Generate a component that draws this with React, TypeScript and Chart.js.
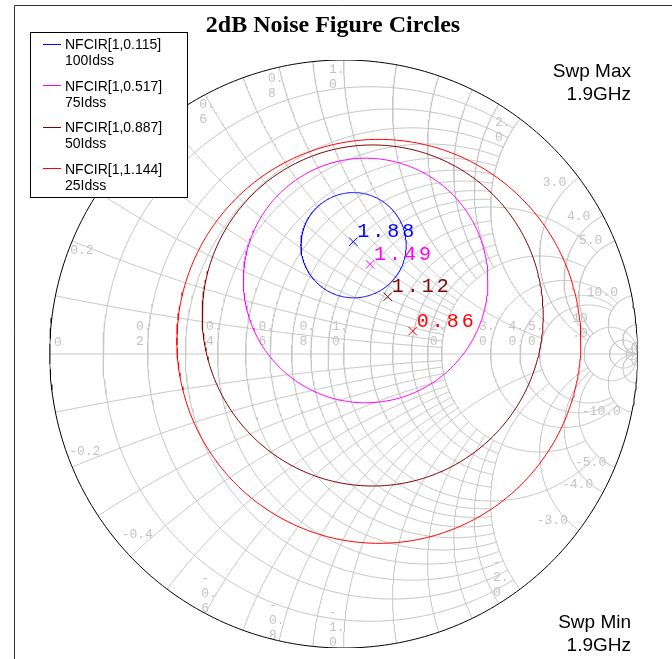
import React, { useEffect, useRef } from 'react';
import { Chart, registerables } from 'chart.js';

Chart.register(...registerables);

// ---------- data ----------
const circleNames = ['NFCIR[1,0.115]', 'NFCIR[1,0.517]', 'NFCIR[1,0.887]', 'NFCIR[1,1.144]'];
const biasNames = ['100Idss', '75Idss', '50Idss', '25Idss'];
const centerRe = [0.034, 0.075, 0.099, 0.120];
const centerIm = [0.370, 0.250, 0.131, 0.043];
const circleRadius = [0.179, 0.416, 0.580, 0.687];
const optRe = [0.033, 0.090, 0.150, 0.235];
const optIm = [0.382, 0.305, 0.195, 0.078];
const nfMinText = ['1.88', '1.49', '1.12', '0.86'];

// Smith grid values
const rMinor = [0.1, 0.2, 0.3, 0.4, 0.5, 0.6, 0.7, 0.8, 0.9];
const rOne = [1.0];
const rMid = [1.2, 1.4, 1.6, 1.8];
const rTwo = [2.0];
const rHigh = [3, 4, 5];
const rFull = [10, 20, 50];
const xMinor = [0.1, 0.2, 0.3, 0.4, 0.5, 0.6, 0.7, 0.8, 0.9];
const xOne = [1.0];
const xMid = [1.2, 1.4, 1.6, 1.8];
const xTwo = [2.0];
const xHigh = [3, 4, 5];
const xFull = [10, 20, 50];

// tick labels
const rimTickValues = [0.2, 0.4, 0.6, 0.8, 1.0, 2.0, 3.0, 4.0, 5.0, 10.0, -0.2, -0.4, -0.6, -0.8, -1.0, -2.0, -3.0, -4.0, -5.0, -10.0];
const rimTickText = ['0.2', '0.4', '0.|6', '0.|8', '1.|0', '2.|0', '3.0', '4.0', '5.0', '10.0', '-0.2', '-0.4', '-|0.|6', '-|0.|8', '-|1.|0', '-|2.|0', '-3.0', '-4.0', '-5.0', '-10.0'];
const axisTickValues = [0, 0.2, 0.4, 0.6, 0.8, 1.0, 2.0, 3.0, 4.0, 5.0, 10.0];
const axisTickText = ['0', '0.|2', '0.|4', '0.|6', '0.|8', '1.|0', '2.|0', '3.|0', '4.|0', '5.|0', '10|.0'];

// ---------- layout / style ----------
const W = 672;
const H = 659;
const COLORS = ['#0000ff', '#ff00ff', '#800000', '#ff0000'];
const GRID = '#c6c6c6';
const LABEL = '#c2c2c2';
// pixel offsets of rim labels (first glyph left / first baseline) from the rim point
const rimOffsets: [number, number][] = [
  [-2, 13], [-4, 13], [-6, 13.4], [-11, 15], [-14.6, 13], [-25, 7], [-36, 8.4], [-36, 4], [-36, 3], [-45, 0.7],
  [-3, -12], [-9, -19], [-4, -31.4], [-10, -32], [-14.6, -32], [-27, -23], [-42, -6.4], [-41, -4.4], [-40, -1], [-50, 2.8],
];

function zToGamma(r: number, x: number) {
  const den = (r + 1) * (r + 1) + x * x;
  return { re: (r * r - 1 + x * x) / den, im: (2 * x) / den };
}

function rCircle(r: number, xmax: number) {
  const c = r / (1 + r);
  const rad = 1 / (1 + r);
  let th0 = 0;
  if (isFinite(xmax)) {
    const g = zToGamma(r, xmax);
    th0 = Math.atan2(g.im, g.re - c);
  }
  const pts: { x: number; y: number }[] = [];
  const N = 260;
  for (let i = 0; i <= N; i++) {
    const t = th0 + ((2 * Math.PI - 2 * th0) * i) / N;
    pts.push({ x: c + rad * Math.cos(t), y: rad * Math.sin(t) });
  }
  return pts;
}

function xArc(x: number, rmax: number) {
  const ax = Math.abs(x);
  const s = x > 0 ? 1 : -1;
  const cy = 1 / ax;
  const rad = 1 / ax;
  const phi = (r: number) => {
    const g = zToGamma(r, ax);
    let a = Math.atan2(g.im - cy, g.re - 1);
    if (a < 0) a += 2 * Math.PI;
    return a;
  };
  const p0 = phi(0);
  const p1 = isFinite(rmax) ? phi(rmax) : 1.5 * Math.PI;
  const pts: { x: number; y: number }[] = [];
  const N = 200;
  for (let i = 0; i <= N; i++) {
    const t = p0 + ((p1 - p0) * i) / N;
    pts.push({ x: 1 + rad * Math.cos(t), y: s * (cy + rad * Math.sin(t)) });
  }
  return pts;
}

function circlePts(cx: number, cy: number, rad: number) {
  const pts: { x: number; y: number }[] = [];
  const N = 360;
  for (let i = 0; i <= N; i++) {
    const t = (2 * Math.PI * i) / N;
    pts.push({ x: cx + rad * Math.cos(t), y: cy + rad * Math.sin(t) });
  }
  return pts;
}

function buildDatasets() {
  const ds: any[] = [];
  const gridLine = (data: any[]) => ({
    data, showLine: true, borderColor: GRID, borderWidth: 1, pointRadius: 0, order: 10, fill: false,
  });
  const rGroups: [number[], number][] = [
    [rMinor, 2], [rOne, 5], [rMid, 2], [rTwo, 5], [rHigh, 10], [rFull, Infinity],
  ];
  const xGroups: [number[], number][] = [
    [xMinor, 2], [xOne, 5], [xMid, 2], [xTwo, 5], [xHigh, 10], [xFull, Infinity],
  ];
  rGroups.forEach(([vals, lim]) => vals.forEach((r) => ds.push(gridLine(rCircle(r, lim)))));
  xGroups.forEach(([vals, lim]) =>
    vals.forEach((x) => {
      ds.push(gridLine(xArc(x, lim)));
      ds.push(gridLine(xArc(-x, lim)));
    })
  );
  ds.push(gridLine([{ x: -1, y: 0 }, { x: 1, y: 0 }]));
  ds.push({ data: circlePts(0, 0, 1), showLine: true, borderColor: '#000000', borderWidth: 1, pointRadius: 0, order: 5 });
  circleNames.forEach((name, i) => {
    ds.push({
      label: name,
      data: circlePts(centerRe[i], centerIm[i], circleRadius[i]),
      showLine: true, borderColor: COLORS[i], borderWidth: 1, pointRadius: 0, order: 2,
    });
    ds.push({
      label: nfMinText[i],
      data: [{ x: optRe[i], y: optIm[i] }],
      showLine: false, pointStyle: 'crossRot', pointRadius: 6, borderColor: COLORS[i], borderWidth: 1,
      backgroundColor: COLORS[i], order: 1,
    });
  });
  return ds;
}

function drawLines(ctx: CanvasRenderingContext2D, text: string, x: number, y: number, lh: number) {
  text.split('|').forEach((t, k) => ctx.fillText(t, x, y + k * lh));
}

const smithPlugin = {
  id: 'smithDecor',
  beforeDraw(chart: any) {
    const ctx: CanvasRenderingContext2D = chart.ctx;
    ctx.save();
    ctx.fillStyle = '#ffffff';
    ctx.fillRect(0, 0, W, H);
    ctx.restore();
  },
  beforeDatasetsDraw(chart: any) {
    const ctx: CanvasRenderingContext2D = chart.ctx;
    const xs = chart.scales.x;
    const ys = chart.scales.y;
    ctx.save();
    ctx.fillStyle = LABEL;
    ctx.font = '13px "Liberation Mono", monospace';
    ctx.textAlign = 'left';
    ctx.textBaseline = 'alphabetic';
    rimTickValues.forEach((v, i) => {
      const g = zToGamma(0, v);
      const px = xs.getPixelForValue(g.re);
      const py = ys.getPixelForValue(g.im);
      const [dx, dy] = rimOffsets[i];
      drawLines(ctx, rimTickText[i], px + dx, py + dy, 15);
    });
    const axisY = ys.getPixelForValue(0);
    axisTickValues.forEach((v, i) => {
      const g = zToGamma(v, 0);
      const px = xs.getPixelForValue(g.re);
      if (v === 0) {
        drawLines(ctx, axisTickText[i], px + 4.5, axisY - 8, 15);
      } else if (v >= 10) {
        drawLines(ctx, axisTickText[i], px - 12, axisY - 32, 15);
      } else {
        drawLines(ctx, axisTickText[i], px - 11.5, axisY - 24, 15);
      }
    });
    ctx.restore();
  },
  afterDatasetsDraw(chart: any) {
    const ctx: CanvasRenderingContext2D = chart.ctx;
    const xs = chart.scales.x;
    const ys = chart.scales.y;
    ctx.save();
    // marker labels
    ctx.font = '20px "Liberation Mono", monospace';
    try { (ctx as any).letterSpacing = '3px'; } catch (e) {}
    ctx.textAlign = 'left';
    nfMinText.forEach((t, i) => {
      const px = xs.getPixelForValue(optRe[i]);
      const py = ys.getPixelForValue(optIm[i]);
      ctx.fillStyle = COLORS[i];
      ctx.fillText(t, px + 4, py - 4.5);
    });
    try { (ctx as any).letterSpacing = '0px'; } catch (e) {}

    // frame
    ctx.strokeStyle = '#333333';
    ctx.lineWidth = 1;
    ctx.beginPath();
    ctx.moveTo(14.5, H + 2);
    ctx.lineTo(14.5, 5.5);
    ctx.lineTo(W + 2, 5.5);
    ctx.stroke();

    // title
    ctx.fillStyle = '#000000';
    ctx.font = 'bold 24px "Liberation Serif", serif';
    ctx.textAlign = 'center';
    ctx.fillText('2dB Noise Figure Circles', 333, 32);

    // sweep texts
    ctx.font = '19px "Liberation Sans", sans-serif';
    ctx.textAlign = 'right';
    ctx.fillText('Swp Max', 631, 77);
    ctx.fillText('1.9GHz', 631, 100);
    ctx.fillText('Swp Min', 631, 628);
    ctx.fillText('1.9GHz', 631, 651);

    // legend
    ctx.fillStyle = '#ffffff';
    ctx.fillRect(30, 32, 157, 165);
    ctx.strokeStyle = '#000000';
    ctx.strokeRect(30.5, 32.5, 157, 165);
    ctx.font = '14px "Liberation Sans", sans-serif';
    ctx.textAlign = 'left';
    circleNames.forEach((name, i) => {
      const ly = 43.5 + i * 41.5;
      ctx.strokeStyle = COLORS[i];
      ctx.beginPath();
      ctx.moveTo(43, Math.round(ly) + 0.5);
      ctx.lineTo(61, Math.round(ly) + 0.5);
      ctx.stroke();
      ctx.fillStyle = '#000000';
      ctx.fillText(name, 65, ly + 5.7);
      ctx.fillText(biasNames[i], 65, ly + 21.7);
    });
    ctx.restore();
  },
};

export default function App() {
  const ref = useRef<HTMLCanvasElement | null>(null);
  useEffect(() => {
    if (!ref.current) return;
    const chart = new Chart(ref.current, {
      type: 'scatter',
      data: { datasets: buildDatasets() },
      options: {
        animation: false,
        responsive: false,
        maintainAspectRatio: false,
        devicePixelRatio: 1,
        events: [],
        layout: { padding: { left: 49.6, right: 34.4, top: 60, bottom: 11 } },
        elements: { line: { tension: 0 } },
        plugins: { legend: { display: false }, title: { display: false }, tooltip: { enabled: false } },
        scales: {
          x: { type: 'linear', min: -1, max: 1, display: false },
          y: { type: 'linear', min: -1, max: 1, display: false },
        },
      } as any,
      plugins: [smithPlugin],
    });
    return () => chart.destroy();
  }, []);
  return (
    <div style={{ position: 'fixed', left: 0, top: 0, width: W, height: H, background: '#ffffff' }}>
      <canvas ref={ref} width={W} height={H} style={{ display: 'block', width: W, height: H }} />
    </div>
  );
}
